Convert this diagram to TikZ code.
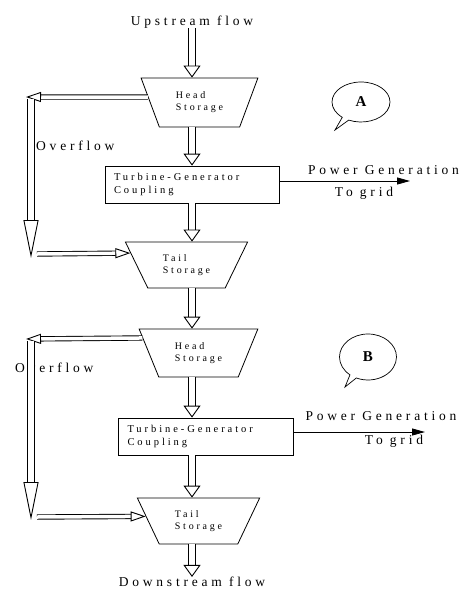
\documentclass[tikz,border=0pt]{standalone}
\usepackage{fontspec}
\setmainfont{Liberation Serif}[LetterSpace=28]
\usetikzlibrary{arrows.meta,shapes.geometric,shapes.callouts}

\begin{document}
\begin{tikzpicture}[x=1pt,y=-1pt,
  pipe/.style={double,double distance=6pt,line width=0.9pt,
    -{Triangle[open,length=12pt,width=17pt]}},
  thinpipe/.style={double,double distance=3.5pt,line width=0.9pt,
    -{Triangle[open,length=15pt,width=10pt]}},
  droppipe/.style={double,double distance=6pt,line width=0.9pt,
    -{Triangle[open,length=38pt,width=15pt]}},
  power/.style={line width=0.8pt,-{Triangle[length=13pt,width=7pt]}},
  store/.style={trapezium,draw,line width=0.8pt,shape border rotate=180,
    trapezium stretches=true,inner sep=0pt,align=left,
    font=\fontsize{10}{12}\selectfont},
  unit/.style={draw,line width=0.8pt,minimum width=174pt,minimum height=37pt,
    inner sep=0pt,text width=156pt,align=left,
    font=\fontsize{10.5}{12.5}\selectfont},
  lbl/.style={inner sep=0pt,font=\fontsize{13.5}{15}\selectfont},
  bubble/.style={ellipse callout,draw,line width=0.7pt,inner sep=0pt,
    minimum width=58pt,minimum height=40pt,
    font=\bfseries\fontsize{15}{15}\selectfont}]
  \useasboundingbox (0,0) rectangle (460,590);

  % Eje principal
  \coordinate (eje) at (192,0);

  % Textos
  \node[lbl] (up) at (192,22) {Upstream flow};
  \node[lbl] (down) at (192,582) {Downstream flow};
  \node[lbl,anchor=west] (ovtxtA) at (36,146) {Overflow};
  \node[lbl,anchor=west] (ovtxtB) at (15,368) {Overflow};
  \node[lbl] (powA) at (383.5,170) {Power Generation};
  \node[lbl] (gridA) at (364,193) {To grid};
  \node[lbl] (powB) at (381,416) {Power Generation};
  \node[lbl] (gridB) at (394,441) {To grid};

  % Etapa A
  \node[store,minimum width=117pt,minimum height=49pt,trapezium angle=63]
    (headA) at (199.5,102.5) {Head\\Storage};
  \node[unit] (turbA) at (192,184.5) {Turbine-Generator\\Coupling};
  \node[store,minimum width=123pt,minimum height=46pt,trapezium angle=57]
    (tailA) at (186.5,265) {Tail\\Storage};
  \coordinate (tipA) at (335,130);
  \node[bubble,callout absolute pointer=(tipA)] (markA) at (361,102) {A};

  % Etapa B
  \node[store,minimum width=119pt,minimum height=48pt,trapezium angle=61]
    (headB) at (198.5,353) {Head\\Storage};
  \node[unit,minimum width=175pt] (turbB) at (205.5,436.5) {Turbine-Generator\\Coupling};
  \node[store,minimum width=123pt,minimum height=46pt,trapezium angle=58]
    (tailB) at (198.5,521) {Tail\\Storage};
  \coordinate (tipB) at (345,387);
  \node[bubble,minimum width=57pt,minimum height=46pt,
    callout absolute pointer=(tipB)] (markB) at (368,357) {B};

  % Flujo principal
  \draw[pipe] (up.south -| eje) -- (headA.north -| eje);
  \draw[pipe] (headA.south -| eje) -- (turbA.north -| eje);
  \draw[pipe] (turbA.south -| eje) -- (tailA.north -| eje);
  \draw[pipe] (tailA.south -| eje) -- (headB.north -| eje);
  \draw[pipe] (headB.south -| eje) -- (turbB.north -| eje);
  \draw[pipe] (turbB.south -| eje) -- (tailB.north -| eje);
  \draw[pipe] (tailB.south -| eje) -- (down.north -| eje);

  % Rebose A
  \coordinate (ovA) at (26,97);
  \coordinate (ovAs) at (31,99);
  \coordinate (ovAe) at (31,258);
  \coordinate (rtA) at (37,254);
  \draw[thinpipe] (headA.174) -- (ovA);
  \draw[droppipe] (ovAs) -- (ovAe);
  \draw[thinpipe] (rtA) -- (tailA.168);

  % Rebose B
  \coordinate (ovB) at (26,339);
  \coordinate (ovBs) at (31,341);
  \coordinate (ovBe) at (31,520);
  \coordinate (rtB) at (37,517);
  \draw[thinpipe] (headB.165) -- (ovB);
  \draw[droppipe] (ovBs) -- (ovBe);
  \draw[thinpipe] (rtB) -- (tailB.175);

  % Potencia a la red
  \coordinate (outA) at (410,181);
  \coordinate (outB) at (425,432);
  \draw[power] ([yshift=3.5pt]turbA.east) -- (outA);
  \draw[power] ([yshift=4.5pt]turbB.east) -- (outB);
\end{tikzpicture}
\end{document}
